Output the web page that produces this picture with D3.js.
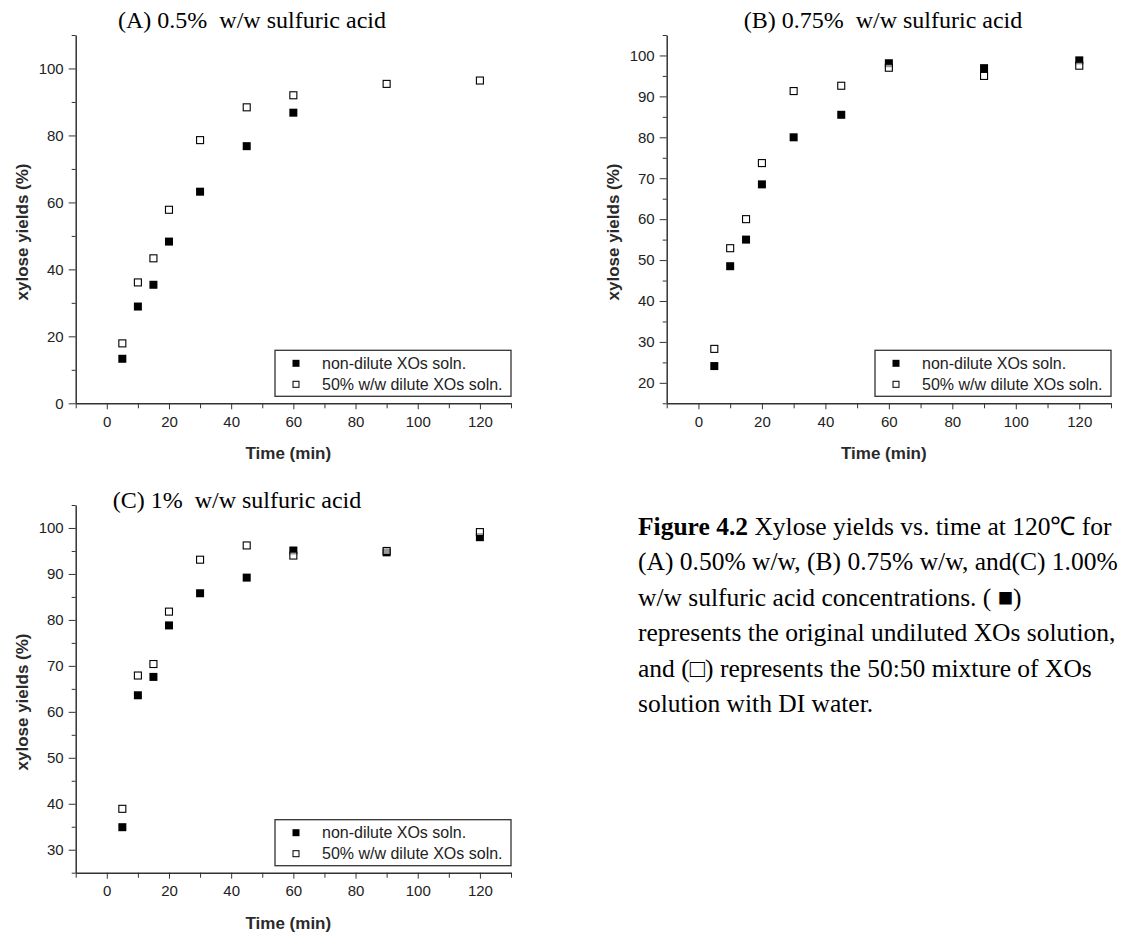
<!DOCTYPE html>
<html>
<head>
<meta charset="utf-8">
<script src="https://cdn.jsdelivr.net/npm/d3@7/dist/d3.min.js"></script>
<style>
  body { margin: 0; background: #fff; }
  svg { display: block; }
  .tick text { font-family: Arial, "Liberation Sans", sans-serif; font-size: 15px; fill: #222; }
</style>
</head>
<body>
<script>
// sampling times (min)
var timeA = [5, 10, 15, 20, 30, 45, 60];
var timeAll = [5, 10, 15, 20, 30, 45, 60, 90, 120];

// (A) 0.5% w/w sulfuric acid
var nonDiluteA = [13.3, 28.9, 35.4, 48.3, 63.2, 76.8, 86.8];
var diluteA = [17.9, 36.1, 43.3, 57.8, 78.6, 88.4, 92.0, 95.4, 96.4];

// (B) 0.75% w/w sulfuric acid
var nonDiluteB = [24.1, 48.5, 55.0, 68.5, 80.0, 85.5, 98.1, 96.9, 98.8];
var diluteB = [28.3, 52.9, 60.0, 73.7, 91.3, 92.6, 97.0, 95.0, 97.5];

// (C) 1% w/w sulfuric acid
var nonDiluteC = [34.9, 63.6, 67.6, 78.8, 85.8, 89.2, 95.1, 94.7, 98.0];
var diluteC = [38.9, 67.9, 70.4, 81.8, 93.1, 96.2, 94.0, 95.0, 99.1];

var seriesNames = ["non-dilute XOs soln.", "50% w/w dilute XOs soln."];
var xTicks = [0, 20, 40, 60, 80, 100, 120];

var captionLines = [
    ["Figure 4.2", " Xylose yields vs. time at 120\u2103 for"],
    ["", "(A) 0.50% w/w, (B) 0.75% w/w, and(C) 1.00%"],
    ["", "w/w sulfuric acid concentrations. ( \u25A0)"],
    ["", "represents the original undiluted XOs solution,"],
    ["", "and (\u25A1) represents the 50:50 mixture of XOs"],
    ["", "solution with DI water."]
];

var svg = d3.select("body").append("svg")
    .attr("width", 1139)
    .attr("height", 934);

var sans = "Arial, 'Liberation Sans', sans-serif";
var serif = "'Times New Roman', 'Liberation Serif', serif";

function drawPanel(p) {
    var x = d3.scaleLinear().domain([-10, 130]).range([p.left, p.right]);
    var y = d3.scaleLinear().domain(p.yDomain).range([p.bottom, p.top]);

    var g = svg.append("g");

    // x axis, major and minor ticks
    var xMinor = d3.range(-10, 131, 10).filter(function (d) { return d % 20 !== 0; });
    g.append("g")
        .attr("transform", "translate(0," + p.bottom + ")")
        .call(d3.axisBottom(x).tickValues(xMinor).tickSize(5).tickFormat(""))
        .call(function (a) { a.select(".domain").remove(); })
        .selectAll("line").attr("stroke", "#333");
    var xa = g.append("g")
        .attr("transform", "translate(0," + p.bottom + ")")
        .call(d3.axisBottom(x).tickValues(xTicks).tickSize(6).tickSizeOuter(0).tickPadding(7));
    xa.select(".domain").attr("stroke", "#333").attr("stroke-width", 1.5);
    xa.selectAll("line").attr("stroke", "#333");

    // y axis
    var yMinor = d3.range(p.yDomain[0], p.yDomain[1] + 0.01, p.yStep / 2)
        .filter(function (d) { return p.yTicks.indexOf(d) < 0; });
    g.append("g")
        .attr("transform", "translate(" + p.left + ",0)")
        .call(d3.axisLeft(y).tickValues(yMinor).tickSize(4).tickFormat(""))
        .call(function (a) { a.select(".domain").remove(); })
        .selectAll("line").attr("stroke", "#333");
    var ya = g.append("g")
        .attr("transform", "translate(" + p.left + ",0)")
        .call(d3.axisLeft(y).tickValues(p.yTicks).tickSize(7).tickSizeOuter(0).tickPadding(5));
    ya.select(".domain").attr("stroke", "#333").attr("stroke-width", 1.5);
    ya.selectAll("line").attr("stroke", "#333");

    // title
    g.append("text")
        .attr("x", p.titleX).attr("y", p.titleY)
        .attr("text-anchor", "middle")
        .style("font-family", serif).style("font-size", "24px")
        .text(p.title);

    // axis labels
    g.append("text")
        .attr("x", (p.left + p.right) / 2 - 5).attr("y", p.bottom + 56)
        .attr("text-anchor", "middle")
        .style("font-family", sans).style("font-size", "17px").style("font-weight", "bold")
        .attr("fill", "#2a2a2a")
        .text("Time (min)");
    g.append("text")
        .attr("transform", "translate(" + (p.left - 48) + "," + p.yLabelY + ") rotate(-90)")
        .attr("text-anchor", "middle")
        .style("font-family", sans).style("font-size", "17px").style("font-weight", "bold")
        .attr("fill", "#2a2a2a")
        .text("xylose yields (%)");

    // points
    var s = 8;
    g.selectAll(".filled").data(p.filled).enter().append("rect")
        .attr("x", function (d, i) { return x(p.filledT[i]) - s / 2; })
        .attr("y", function (d) { return y(d) - s / 2; })
        .attr("width", s).attr("height", s)
        .attr("fill", "#000");
    g.selectAll(".hollow").data(p.hollow).enter().append("rect")
        .attr("x", function (d, i) { return x(p.hollowT[i]) - s / 2 + 0.5; })
        .attr("y", function (d) { return y(d) - s / 2 + 0.5; })
        .attr("width", s - 1).attr("height", s - 1)
        .attr("fill", "#fff").attr("fill-opacity", 0.6)
        .attr("stroke", "#000").attr("stroke-width", 1.1);

    // legend
    var lg = g.append("g").attr("transform", "translate(" + (p.right - 236) + "," + (p.bottom - 53) + ")");
    lg.append("rect").attr("width", 236).attr("height", 46)
        .attr("fill", "#fff").attr("stroke", "#333").attr("stroke-width", 1.3);
    seriesNames.forEach(function (name, i) {
        var cy = 13 + i * 21;
        lg.append("rect")
            .attr("x", 21 - (i ? 3 : 3.5)).attr("y", cy - (i ? 3 : 3.5))
            .attr("width", i ? 6 : 7).attr("height", i ? 6 : 7)
            .attr("fill", i ? "#fff" : "#000")
            .attr("stroke", i ? "#000" : "none").attr("stroke-width", 1);
        lg.append("text")
            .attr("x", 47).attr("y", cy + 5.5)
            .style("font-family", sans).style("font-size", "16px")
            .attr("fill", "#222")
            .text(name);
    });
}

drawPanel({
    left: 75.7, right: 511, top: 35, bottom: 403.3,
    yDomain: [0, 110], yTicks: [0, 20, 40, 60, 80, 100], yStep: 20,
    title: "(A) 0.5%\u00A0 w/w sulfuric acid", titleX: 252, titleY: 28, yLabelY: 232,
    filled: nonDiluteA, filledT: timeA, hollow: diluteA, hollowT: timeAll
});
drawPanel({
    left: 666.7, right: 1111, top: 35, bottom: 403.3,
    yDomain: [15, 105], yTicks: [20, 30, 40, 50, 60, 70, 80, 90, 100], yStep: 10,
    title: "(B) 0.75%\u00A0 w/w sulfuric acid", titleX: 883, titleY: 28, yLabelY: 232,
    filled: nonDiluteB, filledT: timeAll, hollow: diluteB, hollowT: timeAll
});
drawPanel({
    left: 75.7, right: 511, top: 505, bottom: 872.7,
    yDomain: [25, 105], yTicks: [30, 40, 50, 60, 70, 80, 90, 100], yStep: 10,
    title: "(C) 1%\u00A0 w/w sulfuric acid", titleX: 237, titleY: 508, yLabelY: 702,
    filled: nonDiluteC, filledT: timeAll, hollow: diluteC, hollowT: timeAll
});

// caption, one text element per line
captionLines.forEach(function (line, i) {
    var t = svg.append("text")
        .attr("x", 638).attr("y", 535 + i * 35.4)
        .style("font-family", serif).style("font-size", "25.5px");
    if (line[0]) t.append("tspan").style("font-weight", "bold").text(line[0]);
    t.append("tspan").text(line[1]);
});
</script>
</body>
</html>
